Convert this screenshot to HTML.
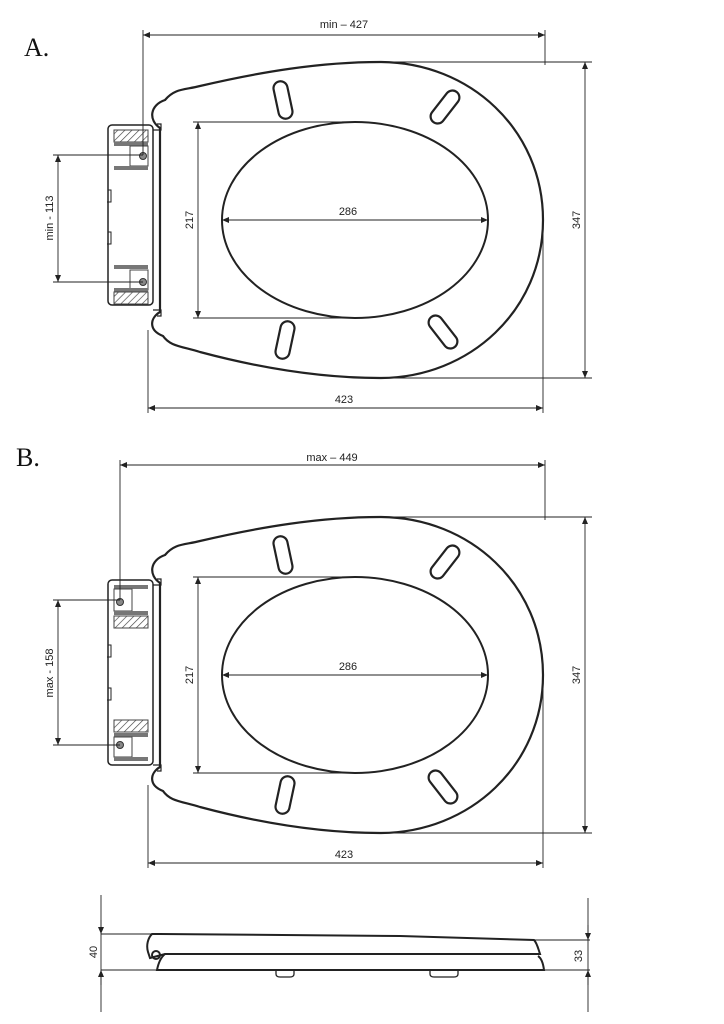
<!DOCTYPE html>
<html><head><meta charset="utf-8"><style>
html,body{margin:0;padding:0;background:#fff;width:724px;height:1024px;overflow:hidden}
svg{display:block}
text{font-family:"Liberation Sans",Arial,sans-serif;font-size:11px;fill:#222}
.big{font-family:"Liberation Serif",serif;font-size:26px;fill:#111}
</style></head><body>
<svg width="724" height="1024" viewBox="0 0 724 1024" xmlns="http://www.w3.org/2000/svg">
<defs>
<marker id="ar" markerWidth="8" markerHeight="8" refX="7" refY="3" orient="auto-start-reverse" markerUnits="userSpaceOnUse"><path d="M0,0 L7,3 L0,6 z" fill="#222"/></marker>
<pattern id="hat" width="5" height="5" patternUnits="userSpaceOnUse" patternTransform="rotate(45)"><rect width="5" height="5" fill="#fff"/><line x1="0" y1="0" x2="0" y2="5" stroke="#444" stroke-width="1.3"/></pattern>
<g id="seat" fill="none" stroke="#222" stroke-width="2.2">
<path d="M165,100 C175,88 185,90 200,86 C260,72 320,62 380,62 C470,62 543,130 543,220 C543,310 470,378 380,378 C320,378 260,368 200,352 C180,346 170,346 163,336 C148,330 150,318 160,312 L160,128 C148,120 150,105 165,100 Z"/>
<ellipse cx="355" cy="220" rx="133" ry="98" stroke-width="2"/>
<rect x="-7" y="-19" width="14" height="38" rx="7" transform="translate(283,100) rotate(-12)"/>
<rect x="-7" y="-19" width="14" height="38" rx="7" transform="translate(445,107) rotate(38)"/>
<rect x="-7" y="-19" width="14" height="38" rx="7" transform="translate(285,340) rotate(12)"/>
<rect x="-7" y="-19" width="14" height="38" rx="7" transform="translate(443,332) rotate(-38)"/>
<path d="M153,130 h8 v-6 h-4 M153,310 h8 v6 h-4" stroke-width="1.2"/>
</g>
</defs>

<text class="big" x="24" y="56">A.</text>
<text class="big" x="16" y="466">B.</text>

<!-- A -->
<use href="#seat"/>
<rect x="108" y="125" width="45" height="180" rx="4" fill="#fff" stroke="#222" stroke-width="1.5"/>
<path d="M108,190 h3 v12 h-4 M108,232 h3 v12 h-4" fill="none" stroke="#222" stroke-width="1"/>
<rect x="114" y="130" width="34" height="12" fill="url(#hat)" stroke="#444"/>
<rect x="114" y="142" width="34" height="4" fill="#777"/>
<rect x="130" y="146" width="18" height="20" fill="#fff" stroke="#444"/>
<rect x="114" y="166" width="34" height="4" fill="#777"/>
<circle cx="143" cy="156" r="3.5" fill="#888" stroke="#333"/>
<rect x="114" y="265" width="34" height="4" fill="#777"/>
<rect x="130" y="270" width="18" height="20" fill="#fff" stroke="#444"/>
<rect x="114" y="288" width="34" height="4" fill="#777"/>
<rect x="114" y="292" width="34" height="12" fill="url(#hat)" stroke="#444"/>
<circle cx="143" cy="282" r="3.5" fill="#888" stroke="#333"/>
<g stroke="#222" stroke-width="0.9" fill="none">
<line x1="143" y1="30" x2="143" y2="155"/><line x1="545" y1="30" x2="545" y2="65"/>
<line x1="143" y1="35" x2="545" y2="35" marker-start="url(#ar)" marker-end="url(#ar)"/>
<line x1="380" y1="62" x2="592" y2="62"/><line x1="380" y1="378" x2="592" y2="378"/>
<line x1="585" y1="62" x2="585" y2="378" marker-start="url(#ar)" marker-end="url(#ar)"/>
<line x1="148" y1="330" x2="148" y2="413"/><line x1="543" y1="220" x2="543" y2="413"/>
<line x1="148" y1="408" x2="543" y2="408" marker-start="url(#ar)" marker-end="url(#ar)"/>
<line x1="193" y1="122" x2="355" y2="122"/><line x1="193" y1="318" x2="355" y2="318"/>
<line x1="198" y1="122" x2="198" y2="318" marker-start="url(#ar)" marker-end="url(#ar)"/>
<line x1="222" y1="220" x2="488" y2="220" marker-start="url(#ar)" marker-end="url(#ar)"/>
<line x1="53" y1="155" x2="143" y2="155"/><line x1="53" y1="282" x2="143" y2="282"/>
<line x1="58" y1="155" x2="58" y2="282" marker-start="url(#ar)" marker-end="url(#ar)"/>
</g>
<text x="344" y="28" text-anchor="middle">min – 427</text>
<text x="344" y="403" text-anchor="middle">423</text>
<text x="348" y="215" text-anchor="middle">286</text>
<text transform="translate(580,220) rotate(-90)" text-anchor="middle">347</text>
<text transform="translate(193,220) rotate(-90)" text-anchor="middle">217</text>
<text transform="translate(53,218) rotate(-90)" text-anchor="middle">min - 113</text>

<!-- B -->
<use href="#seat" y="455"/>
<rect x="108" y="580" width="45" height="185" rx="4" fill="#fff" stroke="#222" stroke-width="1.5"/>
<path d="M108,645 h3 v12 h-4 M108,688 h3 v12 h-4" fill="none" stroke="#222" stroke-width="1"/>
<rect x="114" y="585" width="34" height="4" fill="#777"/>
<rect x="114" y="589" width="18" height="22" fill="#fff" stroke="#444"/>
<rect x="114" y="611" width="34" height="4" fill="#777"/>
<rect x="114" y="616" width="34" height="12" fill="url(#hat)" stroke="#444"/>
<circle cx="120" cy="602" r="3.5" fill="#888" stroke="#333"/>
<rect x="114" y="720" width="34" height="12" fill="url(#hat)" stroke="#444"/>
<rect x="114" y="733" width="34" height="4" fill="#777"/>
<rect x="114" y="737" width="18" height="20" fill="#fff" stroke="#444"/>
<rect x="114" y="757" width="34" height="4" fill="#777"/>
<circle cx="120" cy="745" r="3.5" fill="#888" stroke="#333"/>
<g stroke="#222" stroke-width="0.9" fill="none">
<line x1="120" y1="460" x2="120" y2="600"/><line x1="545" y1="460" x2="545" y2="520"/>
<line x1="120" y1="465" x2="545" y2="465" marker-start="url(#ar)" marker-end="url(#ar)"/>
<line x1="380" y1="517" x2="592" y2="517"/><line x1="380" y1="833" x2="592" y2="833"/>
<line x1="585" y1="517" x2="585" y2="833" marker-start="url(#ar)" marker-end="url(#ar)"/>
<line x1="148" y1="785" x2="148" y2="868"/><line x1="543" y1="675" x2="543" y2="868"/>
<line x1="148" y1="863" x2="543" y2="863" marker-start="url(#ar)" marker-end="url(#ar)"/>
<line x1="193" y1="577" x2="355" y2="577"/><line x1="193" y1="773" x2="355" y2="773"/>
<line x1="198" y1="577" x2="198" y2="773" marker-start="url(#ar)" marker-end="url(#ar)"/>
<line x1="222" y1="675" x2="488" y2="675" marker-start="url(#ar)" marker-end="url(#ar)"/>
<line x1="53" y1="600" x2="120" y2="600"/><line x1="53" y1="745" x2="120" y2="745"/>
<line x1="58" y1="600" x2="58" y2="745" marker-start="url(#ar)" marker-end="url(#ar)"/>
</g>
<text x="332" y="461" text-anchor="middle">max – 449</text>
<text x="344" y="858" text-anchor="middle">423</text>
<text x="348" y="670" text-anchor="middle">286</text>
<text transform="translate(580,675) rotate(-90)" text-anchor="middle">347</text>
<text transform="translate(193,675) rotate(-90)" text-anchor="middle">217</text>
<text transform="translate(53,673) rotate(-90)" text-anchor="middle">max - 158</text>

<!-- side view -->
<g fill="none" stroke="#222" stroke-width="2">
<path d="M152,934 C148,938 146,945 148,952 L150,958 L165,954 L540,954 C538,948 537,943 534,940 L400,936 L160,934 Z"/>
<path d="M165,954 C160,958 158,965 157,970 L544,970 C543,962 541,958 538,956"/>
<circle cx="156" cy="955" r="4"/>
<path d="M276,970 v4 q0,3 4,3 h10 q4,0 4,-3 v-4 M430,970 v4 q0,3 4,3 h20 q4,0 4,-3 v-4" stroke-width="1.3"/>
</g>
<g stroke="#222" stroke-width="0.9" fill="none">
<line x1="101" y1="895" x2="101" y2="1012"/><line x1="588" y1="898" x2="588" y2="1012"/>
<line x1="101" y1="934" x2="152" y2="934"/><line x1="101" y1="970" x2="157" y2="970"/>
<line x1="544" y1="970" x2="590" y2="970"/><line x1="534" y1="940" x2="590" y2="940"/>
<line x1="101" y1="920" x2="101" y2="934" marker-end="url(#ar)"/>
<line x1="101" y1="985" x2="101" y2="970" marker-end="url(#ar)"/>
<line x1="588" y1="925" x2="588" y2="940" marker-end="url(#ar)"/>
<line x1="588" y1="985" x2="588" y2="970" marker-end="url(#ar)"/>
</g>
<text transform="translate(97,952) rotate(-90)" text-anchor="middle">40</text>
<text transform="translate(582,956) rotate(-90)" text-anchor="middle">33</text>
</svg>
</body></html>
